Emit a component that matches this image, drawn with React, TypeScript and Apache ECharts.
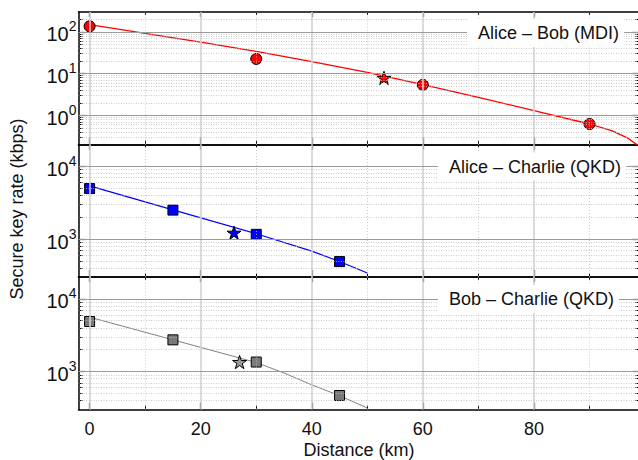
import React, { useEffect, useRef } from 'react';
import * as echarts from 'echarts';

// ---------- axis ticks ----------
const distanceTicks = [0, 20, 40, 60, 80];
const distanceMinorTicks = [10, 30, 50, 70, 90];
const xLabelTitle = 'Distance (km)';
const yLabelTitle = 'Secure key rate (kbps)';

// ---------- panel 1 : Alice – Bob (MDI) ----------
const abTitle = 'Alice – Bob (MDI)';
const abDecades = [1, 10, 100];
const abDistance = [0, 30, 60, 90];
const abRate = [136, 22.5, 5.4, 0.62];
const abStarDistance = [53];
const abStarRate = [7.9];
const abFitDistance = [0, 10, 20, 30, 40, 50, 60, 70, 80, 90, 94, 97, 100];
const abFitRate = [150, 92, 57, 34, 19.5, 10.7, 5.45, 2.7, 1.3, 0.62, 0.43, 0.28, 0.14];

// ---------- panel 2 : Alice – Charlie (QKD) ----------
const acTitle = 'Alice – Charlie (QKD)';
const acDecades = [1000, 10000];
const acDistance = [0, 15, 30, 45];
const acRate = [4950, 2500, 1160, 489];
const acStarDistance = [26];
const acStarRate = [1220];
const acFitDistance = [0, 15, 30, 40, 45, 50];
const acFitRate = [5400, 2520, 1180, 680, 490, 340];

// ---------- panel 3 : Bob – Charlie (QKD) ----------
const bcTitle = 'Bob – Charlie (QKD)';
const bcDecades = [1000, 10000];
const bcDistance = [0, 15, 30, 45];
const bcRate = [4880, 2730, 1350, 468];
const bcStarDistance = [27];
const bcStarRate = [1350];
const bcFitDistance = [0, 15, 30, 35, 40, 45, 50];
const bcFitRate = [5600, 2730, 1330, 955, 655, 465, 315];

const FONT = '"Liberation Sans", Arial, Helvetica, sans-serif';
const STAR =
  'path://M100 0L122.45 69.1L195.1 69.1L136.3 111.8L158.8 180.9L100 138.2L41.2 180.9L63.7 111.8L4.9 69.1L77.55 69.1Z';

const zip = (xs: number[], ys: number[]) => xs.map((x, i) => [x, ys[i]]);

function minorLogValues(min: number, max: number): number[] {
  const out: number[] = [];
  for (let e = -3; e <= 6; e++) {
    for (let m = 2; m <= 9; m++) {
      const v = m * Math.pow(10, e);
      if (v > min * 1.0001 && v < max * 0.9999) out.push(v);
    }
  }
  return out;
}

const panels = [
  {
    title: abTitle, top: 12, yMin: 0.2, yMax: 300, decades: abDecades,
    ptX: abDistance, ptY: abRate, stX: abStarDistance, stY: abStarRate,
    fitX: abFitDistance, fitY: abFitRate,
    color: '#ff0000', lineColor: '#ff0000', lineWidth: 1.3,
    symbol: 'circle', symbolSize: 11,
    labelX: 467, labelY: 33,
  },
  {
    title: acTitle, top: 144.5, yMin: 300, yMax: 20000, decades: acDecades,
    ptX: acDistance, ptY: acRate, stX: acStarDistance, stY: acStarRate,
    fitX: acFitDistance, fitY: acFitRate,
    color: '#0000ff', lineColor: '#0000ff', lineWidth: 1.2,
    symbol: 'rect', symbolSize: 10,
    labelX: 438, labelY: 166.5,
  },
  {
    title: bcTitle, top: 277, yMin: 300, yMax: 20000, decades: bcDecades,
    ptX: bcDistance, ptY: bcRate, stX: bcStarDistance, stY: bcStarRate,
    fitX: bcFitDistance, fitY: bcFitRate,
    color: '#7a7a7a', lineColor: '#808080', lineWidth: 1,
    symbol: 'rect', symbolSize: 10, starColor: '#9a9a9a',
    labelX: 438, labelY: 299,
  },
];

export default function App() {
  const ref = useRef<HTMLDivElement>(null);

  useEffect(() => {
    const chart = echarts.init(ref.current as HTMLDivElement, null, { renderer: 'svg' });

    const grid: any[] = [];
    const xAxis: any[] = [];
    const yAxis: any[] = [];
    const series: any[] = [];
    const graphic: any[] = [];

    const frame = { show: true, onZero: false, lineStyle: { color: '#000', width: 1.5 } };
    const noLine = { show: false, onZero: false };

    panels.forEach((p: any, i: number) => {
      const isBottom = i === panels.length - 1;
      grid.push({ left: 78.5, width: 561, top: p.top, height: 132.5, outerBoundsMode: 'none', containLabel: false });
      const minors = minorLogValues(p.yMin, p.yMax);

      const xCommon = { type: 'value', gridIndex: i, min: -2, max: 99, splitLine: { show: false }, axisPointer: { show: false } };
      xAxis.push({
        ...xCommon, position: 'bottom', axisLine: frame,
        axisTick: { show: true, inside: true, length: 7, customValues: distanceTicks, lineStyle: { color: '#000', width: 1.2 } },
        axisLabel: { show: isBottom, customValues: distanceTicks, margin: 10, fontSize: 18, color: '#111', fontFamily: FONT },
      });
      xAxis.push({
        ...xCommon, position: 'bottom', axisLine: noLine,
        axisTick: { show: true, inside: true, length: 4, customValues: distanceMinorTicks, lineStyle: { color: '#000', width: 1 } },
        axisLabel: { show: false },
      });
      xAxis.push({
        ...xCommon, position: 'top', axisLine: frame,
        axisTick: { show: true, inside: true, length: 5, customValues: distanceTicks, lineStyle: { color: '#000', width: 1.2 } },
        axisLabel: { show: false },
      });
      xAxis.push({
        ...xCommon, position: 'top', axisLine: noLine,
        axisTick: { show: true, inside: true, length: 3, customValues: distanceMinorTicks, lineStyle: { color: '#000', width: 1 } },
        axisLabel: { show: false },
      });

      const yCommon = { type: 'log', logBase: 10, gridIndex: i, min: p.yMin, max: p.yMax, splitLine: { show: false }, axisPointer: { show: false } };
      yAxis.push({
        ...yCommon, position: 'left', axisLine: frame,
        axisTick: { show: true, inside: true, length: 7, customValues: p.decades, lineStyle: { color: '#000', width: 1.2 } },
        axisLabel: {
          show: true, customValues: p.decades, margin: 2, fontFamily: FONT, color: '#111',
          formatter: (v: number) => `{b|10}{s|${Math.round(Math.log10(v))}}`,
          rich: {
            b: { fontSize: 20, lineHeight: 25, verticalAlign: 'bottom', fontFamily: FONT, color: '#111' },
            s: { fontSize: 14, lineHeight: 14, verticalAlign: 'top', fontFamily: FONT, color: '#111' },
          },
        },
      });
      yAxis.push({
        ...yCommon, position: 'left', axisLine: noLine,
        axisTick: { show: true, inside: true, length: 4, customValues: minors, lineStyle: { color: '#000', width: 1 } },
        axisLabel: { show: false },
      });
      yAxis.push({
        ...yCommon, position: 'right', axisLine: frame,
        axisTick: { show: true, inside: true, length: 7, customValues: p.decades, lineStyle: { color: '#000', width: 1.2 } },
        axisLabel: { show: false },
      });
      yAxis.push({
        ...yCommon, position: 'right', axisLine: noLine,
        axisTick: { show: true, inside: true, length: 4, customValues: minors, lineStyle: { color: '#000', width: 1 } },
        axisLabel: { show: false },
      });

      const xi = i * 4;
      const yi = i * 4;

      const gridLines: any[] = [];
      distanceTicks.forEach((v) => gridLines.push({ xAxis: v, lineStyle: { color: '#d2d2d2', width: 1.6, type: 'solid' } }));
      distanceMinorTicks.forEach((v) => gridLines.push({ xAxis: v, lineStyle: { color: '#bdbdbd', width: 0.8, type: [1, 2] } }));
      minors.forEach((v) => gridLines.push({ yAxis: v, lineStyle: { color: '#bdbdbd', width: 0.8, type: [1, 1.5] } }));
      p.decades.forEach((v: number) => gridLines.push({ yAxis: v, lineStyle: { color: '#9a9a9a', width: 1.1, type: 'solid' } }));

      series.push({
        type: 'line', xAxisIndex: xi, yAxisIndex: yi, data: [], z: 1, silent: true,
        markLine: { silent: true, symbol: 'none', label: { show: false }, animation: false, data: gridLines },
      });
      series.push({
        type: 'line', xAxisIndex: xi, yAxisIndex: yi, data: zip(p.fitX, p.fitY), z: 3,
        symbol: 'none', showSymbol: false, silent: true, clip: true,
        lineStyle: { color: p.lineColor, width: p.lineWidth },
      });
      series.push({
        type: 'scatter', xAxisIndex: xi, yAxisIndex: yi, data: zip(p.ptX, p.ptY), z: 4,
        symbol: p.symbol, symbolSize: p.symbolSize, silent: true,
        itemStyle: { color: p.color, borderColor: '#000', borderWidth: 1, opacity: 1 },
      });
      series.push({
        type: 'scatter', xAxisIndex: xi, yAxisIndex: yi, data: zip(p.stX, p.stY), z: 4,
        symbol: STAR, symbolSize: 14, symbolKeepAspect: true, silent: true,
        itemStyle: { color: p.starColor || p.color, borderColor: '#000', borderWidth: 1, opacity: 1 },
      });

      graphic.push({
        type: 'text', x: p.labelX, y: p.labelY, z: 50, silent: true,
        style: {
          text: p.title, fill: '#111', fontSize: 18, fontFamily: FONT,
          align: 'left', verticalAlign: 'middle',
          backgroundColor: '#ffffff', padding: [5, 5, 5, 11],
        },
      });
    });

    graphic.push({
      type: 'text', x: 17, y: 209, rotation: Math.PI / 2, z: 50, silent: true,
      style: { text: yLabelTitle, fill: '#111', fontSize: 18, fontFamily: FONT, align: 'center', verticalAlign: 'middle' },
    });
    graphic.push({
      type: 'text', x: 359, y: 450, z: 50, silent: true,
      style: { text: xLabelTitle, fill: '#111', fontSize: 18, fontFamily: FONT, align: 'center', verticalAlign: 'middle' },
    });

    chart.setOption({
      animation: false,
      backgroundColor: '#ffffff',
      textStyle: { fontFamily: FONT },
      grid, xAxis, yAxis, series, graphic,
    });

    return () => chart.dispose();
  }, []);

  return (
    <div
      ref={ref}
      style={{ position: 'fixed', left: 0, top: 0, width: 638, height: 460, background: '#fff' }}
    />
  );
}
